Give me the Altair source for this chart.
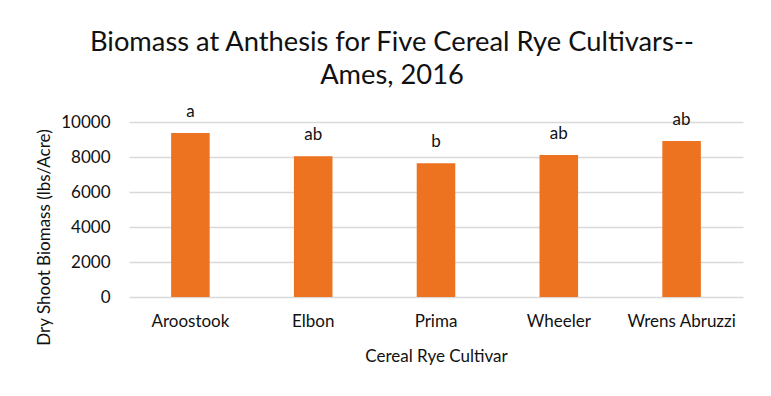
import altair as alt
import pandas as pd

cultivars = ["Aroostook", "Elbon", "Prima", "Wheeler", "Wrens Abruzzi"]
biomass = [9370, 8050, 7650, 8110, 8910]
letters = ["a", "ab", "b", "ab", "ab"]
y_ticks = [0, 2000, 4000, 6000, 8000, 10000]

df = pd.DataFrame({"Cultivar": cultivars, "Biomass": biomass, "Letter": letters})

FONT = "Lato"
TXT = "#111111"
ORANGE = "#ED7320"

x = alt.X(
    "Cultivar:N",
    sort=cultivars,
    title="Cereal Rye Cultivar",
    scale=alt.Scale(paddingInner=0.686, paddingOuter=0.343),
    axis=alt.Axis(
        labelAngle=0, ticks=False, domain=False, grid=False,
        labelPadding=16, labelFontSize=17, labelFont=FONT, labelColor=TXT,
        titleFontSize=17, titleFont=FONT, titleColor=TXT, titleFontWeight="normal",
        titleY=51,
    ),
)
y = alt.Y(
    "Biomass:Q",
    title="Dry Shoot Biomass (lbs/Acre)",
    scale=alt.Scale(domain=[0, 10000], nice=False),
    axis=alt.Axis(
        values=y_ticks, format="d", ticks=False, domain=False,
        labelOverlap=False, labelFlush=False,
        grid=True, gridColor="#d9d9d9", gridWidth=1.4,
        labelPadding=19, labelFontSize=17, labelFont=FONT, labelColor=TXT,
        titleFontSize=17, titleFont=FONT, titleColor=TXT, titleFontWeight="normal",
        titleX=-80, titleY=115, titleBaseline="alphabetic",
    ),
)

base = alt.Chart(df).encode(x=x, y=y)
bars = base.mark_bar(color=ORANGE)
labels = base.mark_text(
    dy=-16, baseline="alphabetic", fontSize=17, font=FONT, color=TXT
).encode(text="Letter:N")

chart = (
    alt.layer(bars, labels)
    .properties(
        width=614,
        height=175,
        padding={"left": 121, "top": 114, "right": 20, "bottom": 91},
        autosize=alt.AutoSizeParams(type="none"),
        title=alt.Title(
            ["Biomass at Anthesis for Five Cereal Rye Cultivars--", "Ames, 2016"],
            fontSize=27.3, font=FONT, fontWeight="normal", color=TXT,
            lineHeight=33, dx=-44, dy=-10, anchor="middle",
        ),
        background="white",
    )
    .configure_view(stroke=None)
)

chart.save("out.html", embed_options={"renderer": "svg", "actions": False})
